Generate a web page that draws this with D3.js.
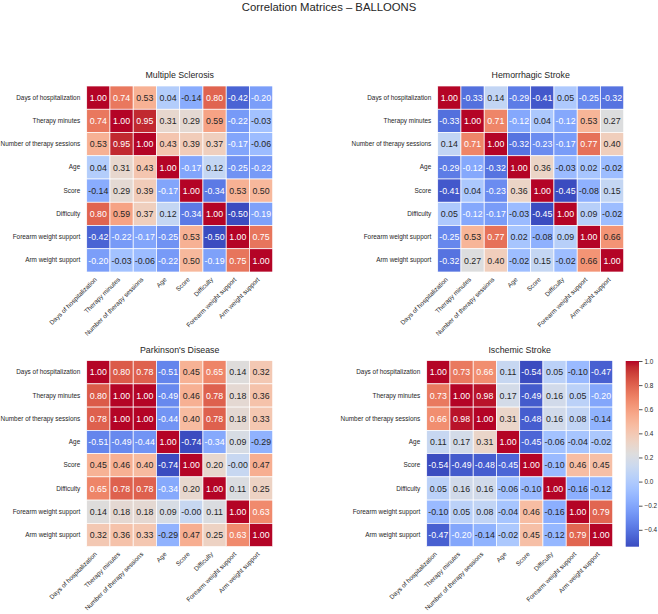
<!DOCTYPE html>
<html>
<head>
<meta charset="utf-8">
<script src="https://cdn.jsdelivr.net/npm/d3@7"></script>
<style>
  body { margin: 0; background: #fff; }
  svg text { font-family: "Liberation Sans", Arial, sans-serif; }
</style>
</head>
<body>
<svg id="chart"></svg>
<script>
// chart data
const mainTitle = 'Correlation Matrices \u2013 BALLOONS';
const variables = ['Days of hospitalization', 'Therapy minutes', 'Number of therapy sessions', 'Age',
  'Score', 'Difficulty', 'Forearm weight support', 'Arm weight support'];
const conditions = ['Multiple Sclerosis', 'Hemorrhagic Stroke', "Parkinson's Disease", 'Ischemic Stroke'];

const msValues = [
  [1.00, 0.74, 0.53, 0.04, -0.14, 0.80, -0.42, -0.20],
  [0.74, 1.00, 0.95, 0.31, 0.29, 0.59, -0.22, -0.03],
  [0.53, 0.95, 1.00, 0.43, 0.39, 0.37, -0.17, -0.06],
  [0.04, 0.31, 0.43, 1.00, -0.17, 0.12, -0.25, -0.22],
  [-0.14, 0.29, 0.39, -0.17, 1.00, -0.34, 0.53, 0.50],
  [0.80, 0.59, 0.37, 0.12, -0.34, 1.00, -0.50, -0.19],
  [-0.42, -0.22, -0.17, -0.25, 0.53, -0.50, 1.00, 0.75],
  [-0.20, -0.03, -0.06, -0.22, 0.50, -0.19, 0.75, 1.00]
];
const hemorrhagicValues = [
  [1.00, -0.33, 0.14, -0.29, -0.41, 0.05, -0.25, -0.32],
  [-0.33, 1.00, 0.71, -0.12, 0.04, -0.12, 0.53, 0.27],
  [0.14, 0.71, 1.00, -0.32, -0.23, -0.17, 0.77, 0.40],
  [-0.29, -0.12, -0.32, 1.00, 0.36, -0.03, 0.02, -0.02],
  [-0.41, 0.04, -0.23, 0.36, 1.00, -0.45, -0.08, 0.15],
  [0.05, -0.12, -0.17, -0.03, -0.45, 1.00, 0.09, -0.02],
  [-0.25, 0.53, 0.77, 0.02, -0.08, 0.09, 1.00, 0.66],
  [-0.32, 0.27, 0.40, -0.02, 0.15, -0.02, 0.66, 1.00]
];
const parkinsonValues = [
  [1.00, 0.80, 0.78, -0.51, 0.45, 0.65, 0.14, 0.32],
  [0.80, 1.00, 1.00, -0.49, 0.46, 0.78, 0.18, 0.36],
  [0.78, 1.00, 1.00, -0.44, 0.40, 0.78, 0.18, 0.33],
  [-0.51, -0.49, -0.44, 1.00, -0.74, -0.34, 0.09, -0.29],
  [0.45, 0.46, 0.40, -0.74, 1.00, 0.20, -0.004, 0.47],
  [0.65, 0.78, 0.78, -0.34, 0.20, 1.00, 0.11, 0.25],
  [0.14, 0.18, 0.18, 0.09, -0.004, 0.11, 1.00, 0.63],
  [0.32, 0.36, 0.33, -0.29, 0.47, 0.25, 0.63, 1.00]
];
const ischemicValues = [
  [1.00, 0.73, 0.66, 0.11, -0.54, 0.05, -0.10, -0.47],
  [0.73, 1.00, 0.98, 0.17, -0.49, 0.16, 0.05, -0.20],
  [0.66, 0.98, 1.00, 0.31, -0.48, 0.16, 0.08, -0.14],
  [0.11, 0.17, 0.31, 1.00, -0.45, -0.06, -0.04, -0.02],
  [-0.54, -0.49, -0.48, -0.45, 1.00, -0.10, 0.46, 0.45],
  [0.05, 0.16, 0.16, -0.06, -0.10, 1.00, -0.16, -0.12],
  [-0.10, 0.05, 0.08, -0.04, 0.46, -0.16, 1.00, 0.79],
  [-0.47, -0.20, -0.14, -0.02, 0.45, -0.12, 0.79, 1.00]
];
const colorbarTicks = [-0.4, -0.2, 0.0, 0.2, 0.4, 0.6, 0.8, 1.0];

// matplotlib coolwarm, 33 samples
const coolwarm = ['#3b4cc0', '#445acc', '#4d68d7', '#5775e1', '#6282ea', '#6c8ef1', '#779af7', '#82a5fb',
  '#8db0fe', '#98b9ff', '#a3c2ff', '#aec9fd', '#b8d0f9', '#c2d5f4', '#ccd9ee', '#d5dbe6', '#dddddd',
  '#e5d8d1', '#ecd3c5', '#f1ccb9', '#f5c4ad', '#f7bba0', '#f7b194', '#f7a688', '#f49a7b', '#f18d6f',
  '#ec7f63', '#e57058', '#de604d', '#d55042', '#cb3e38', '#c0282f', '#b40426'];

const W = 658, H = 614;
const size = 186;
const panels = [
  { x: 86.7, y: 86, values: msValues },
  { x: 437.7, y: 86, values: hemorrhagicValues },
  { x: 86.7, y: 360.6, values: parkinsonValues },
  { x: 426.7, y: 360.6, values: ischemicValues }
];
const ink = '#262626';

const svg = d3.select('#chart').attr('width', W).attr('height', H);

const cmap = d3.scaleLinear()
  .domain(d3.range(coolwarm.length).map(i => i / (coolwarm.length - 1)))
  .range(coolwarm)
  .interpolate(d3.interpolateRgb)
  .clamp(true);

function luminance(c) {
  const rgb = d3.rgb(c);
  const lin = v => { v /= 255; return v <= 0.03928 ? v / 12.92 : Math.pow((v + 0.055) / 1.055, 2.4); };
  return 0.2126 * lin(rgb.r) + 0.7152 * lin(rgb.g) + 0.0722 * lin(rgb.b);
}

svg.append('text')
  .attr('x', W / 2).attr('y', 10.5)
  .attr('text-anchor', 'middle')
  .attr('font-size', 11.3)
  .attr('fill', ink)
  .text(mainTitle);

let lastNorm;
panels.forEach((p, pi) => {
  const vals = p.values.flat();
  const vmin = d3.min(vals), vmax = d3.max(vals);
  const norm = d3.scaleLinear().domain([vmin, vmax]).range([0, 1]);
  lastNorm = { vmin, vmax };

  const x = d3.scaleBand().domain(variables).range([0, size]);
  const y = d3.scaleBand().domain(variables).range([0, size]);

  const g = svg.append('g').attr('transform', `translate(${p.x},${p.y})`);

  const cells = [];
  p.values.forEach((row, ri) => row.forEach((v, ci) => cells.push({ r: variables[ri], c: variables[ci], v })));

  g.selectAll('rect.cell')
    .data(cells).enter()
    .append('rect')
    .attr('class', 'cell')
    .attr('x', d => x(d.c))
    .attr('y', d => y(d.r))
    .attr('width', x.bandwidth())
    .attr('height', y.bandwidth())
    .attr('fill', d => cmap(norm(d.v)))
    .attr('stroke', '#fff')
    .attr('stroke-width', 0.7);

  g.selectAll('text.annot')
    .data(cells).enter()
    .append('text')
    .attr('class', 'annot')
    .attr('x', d => x(d.c) + x.bandwidth() / 2)
    .attr('y', d => y(d.r) + y.bandwidth() / 2)
    .attr('dy', '0.36em')
    .attr('text-anchor', 'middle')
    .attr('font-size', 8.8)
    .attr('fill', d => luminance(cmap(norm(d.v))) > 0.408 ? ink : '#fff')
    .text(d => d.v.toFixed(2));

  // y axis
  const ya = g.append('g')
    .call(d3.axisLeft(y).tickSize(0).tickPadding(6.5));
  ya.select('.domain').remove();
  ya.selectAll('text').attr('font-size', 6.4).attr('fill', ink).attr('font-family', null);

  // x axis, rotated labels
  const xa = g.append('g')
    .attr('transform', `translate(0,${size})`)
    .call(d3.axisBottom(x).tickSize(0));
  xa.select('.domain').remove();
  xa.selectAll('text')
    .attr('font-size', 6.4).attr('fill', ink).attr('font-family', null)
    .attr('text-anchor', 'end')
    .attr('x', 0).attr('y', 0).attr('dy', 0)
    .attr('transform', 'translate(-1,8) rotate(-45)');

  g.append('text')
    .attr('x', size / 2).attr('y', -8)
    .attr('text-anchor', 'middle')
    .attr('font-size', 8.8)
    .attr('fill', ink)
    .text(conditions[pi]);
});

// colorbar for the last panel
const cb = { x: 625.7, y: 361, w: 13.3, h: 185.7 };
const grad = svg.append('defs').append('linearGradient')
  .attr('id', 'cbgrad')
  .attr('x1', 0).attr('y1', 1).attr('x2', 0).attr('y2', 0);
grad.selectAll('stop')
  .data(coolwarm).enter()
  .append('stop')
  .attr('offset', (d, i) => i / (coolwarm.length - 1))
  .attr('stop-color', d => d);
svg.append('rect')
  .attr('x', cb.x).attr('y', cb.y)
  .attr('width', cb.w).attr('height', cb.h)
  .attr('fill', 'url(#cbgrad)');

const cbScale = d3.scaleLinear().domain([lastNorm.vmin, lastNorm.vmax]).range([cb.y + cb.h, cb.y]);
const cba = svg.append('g')
  .attr('transform', `translate(${cb.x + cb.w},0)`)
  .call(d3.axisRight(cbScale).tickValues(colorbarTicks).tickFormat(d3.format('.1f')).tickSize(3.5).tickPadding(2));
cba.select('.domain').remove();
cba.selectAll('line').attr('stroke', ink).attr('stroke-width', 0.8);
cba.selectAll('text').attr('font-size', 6.4).attr('fill', ink).attr('font-family', null);
</script>
</body>
</html>
